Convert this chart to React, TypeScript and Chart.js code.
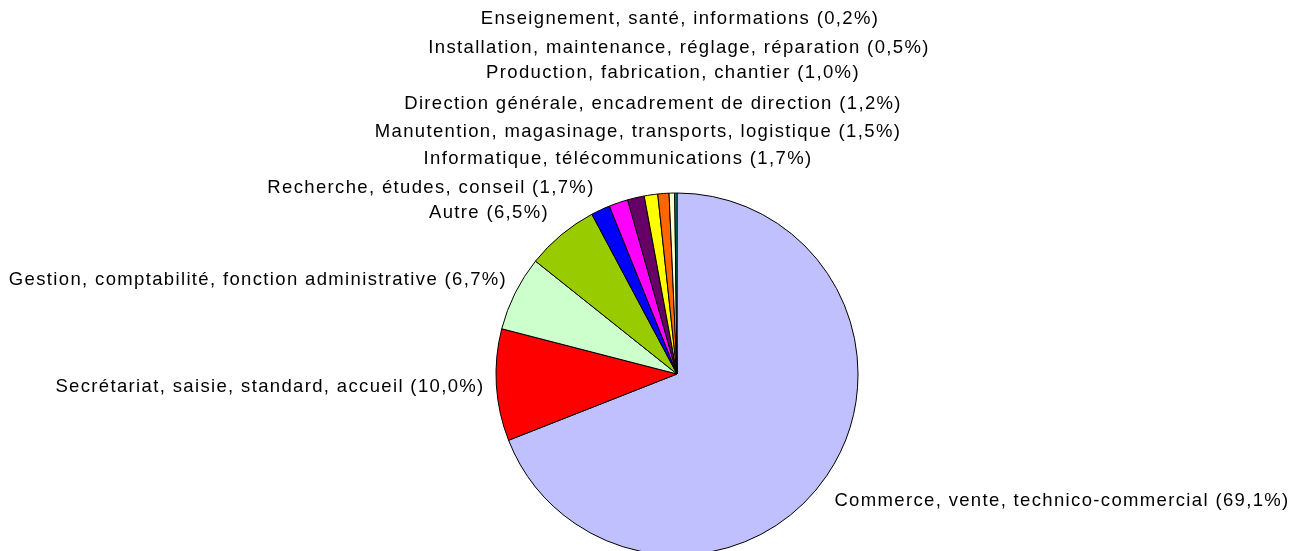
import React, { useEffect, useRef } from "react";
import { Chart, registerables } from "chart.js";

Chart.register(...registerables);

const categories: string[] = [
  "Commerce, vente, technico-commercial",
  "Secrétariat, saisie, standard, accueil",
  "Gestion, comptabilité, fonction administrative",
  "Autre",
  "Recherche, études, conseil",
  "Informatique, télécommunications",
  "Manutention, magasinage, transports, logistique",
  "Direction générale, encadrement de direction",
  "Production, fabrication, chantier",
  "Installation, maintenance, réglage, réparation",
  "Enseignement, santé, informations",
];

const percentages: number[] = [69.1, 10.0, 6.7, 6.5, 1.7, 1.7, 1.5, 1.2, 1.0, 0.5, 0.2];

const sliceColors: string[] = [
  "#C0C0FF",
  "#FF0000",
  "#CCFFCC",
  "#99CC00",
  "#0000FF",
  "#FF00FF",
  "#660066",
  "#FFFF00",
  "#FF6600",
  "#FFFFCC",
  "#009999",
];

// label centre offsets from the pie centre (pixels)
const labelOffsets: [number, number][] = [
  [385, 127],
  [-407, 13],
  [-419, -94],
  [-188, -161],
  [-246, -186],
  [-59, -215],
  [-39, -242],
  [-24, -270],
  [-4, -301],
  [2, -326],
  [3, -355],
];

const fmt = (v: number) => v.toFixed(1).replace(".", ",");

const labelPlugin = {
  id: "outerLabels",
  afterDraw(chart: any) {
    const ctx = chart.ctx as CanvasRenderingContext2D;
    const meta = chart.getDatasetMeta(0);
    const arc = meta.data[0];
    if (!arc) return;
    const cx = arc.x;
    const cy = arc.y;
    ctx.save();
    ctx.font = '18.5px "Liberation Sans", Arial, sans-serif';
    (ctx as any).letterSpacing = "1.35px";
    ctx.fillStyle = "#000000";
    ctx.textAlign = "center";
    ctx.textBaseline = "middle";
    categories.forEach((c, i) => {
      const [dx, dy] = labelOffsets[i];
      ctx.fillText(`${c} (${fmt(percentages[i])}%)`, cx + dx, cy + dy);
    });
    ctx.restore();
  },
};

export default function App() {
  const ref = useRef<HTMLCanvasElement | null>(null);
  useEffect(() => {
    document.body.style.margin = "0";
    if (!ref.current) return;
    const chart = new Chart(ref.current, {
      type: "pie",
      data: {
        labels: categories,
        datasets: [
          {
            data: percentages,
            backgroundColor: sliceColors,
            borderColor: "#000000",
            borderWidth: 1,
            radius: 181,
          } as any,
        ],
      },
      options: {
        responsive: false,
        animation: false,
        layout: { padding: { left: 58, right: 0, top: 197, bottom: 0 } },
        plugins: {
          legend: { display: false },
          tooltip: { enabled: false },
        },
      },
      plugins: [labelPlugin],
    });
    return () => chart.destroy();
  }, []);
  return (
    <div style={{ width: 1296, height: 551 }}>
      <canvas ref={ref} width={1296} height={551} />
    </div>
  );
}
